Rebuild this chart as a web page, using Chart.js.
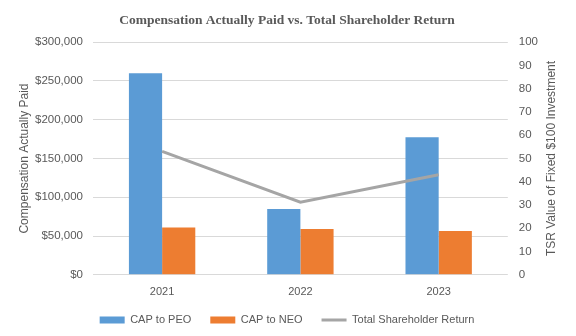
<!DOCTYPE html>
<html>
<head>
<meta charset="utf-8">
<script src="https://cdn.jsdelivr.net/npm/chart.js@4"></script>
<style>
  html, body { margin: 0; padding: 0; background: #fff; }
  #wrap { width: 576px; height: 336px; }
</style>
</head>
<body>
<div id="wrap"><canvas id="myChart" width="576" height="336"></canvas></div>
<script>
// values
const years = ['2021', '2022', '2023'];
const capPEO = [260000, 85000, 177500];
const capNEO = [61000, 59000, 56500];
const tsr = [53.1, 31.2, 43];

const textColor = '#595959';
const tickFont = { family: 'Liberation Sans', size: 11.5 };
const labelFont = { family: 'Liberation Sans', size: 11 };
const leftTitle = 'Compensation Actually Paid';
const rightTitle = 'TSR Value of Fixed $100 Investment';

// legend sits lower than chart.js puts it, and takes less room
const legendSpot = {
    id: 'legendSpot',
    afterInit(chart) {
        const lg = chart.legend;
        const fit = lg.fit;
        lg.fit = function() {
            fit.call(this);
            this.height = 26;
        };
    },
    afterLayout(chart) {
        const lg = chart.legend;
        lg.top = 320 - 19 - 5.5;
        lg.bottom = 336;
    }
};

// both axis titles read bottom to top, drawn where excel had them
const axisTitles = {
    id: 'axisTitles',
    afterDraw(chart) {
        const ctx = chart.ctx;
        const area = chart.chartArea;
        const midY = (area.top + area.bottom) / 2;
        [[25, leftTitle], [552, rightTitle]].forEach(([x, txt]) => {
            ctx.save();
            ctx.translate(x, midY);
            ctx.rotate(-Math.PI / 2);
            ctx.font = '12px "Liberation Sans"';
            ctx.fillStyle = textColor;
            ctx.textAlign = 'center';
            ctx.textBaseline = 'middle';
            ctx.fillText(txt, 0, 0);
            ctx.restore();
        });
    }
};

var ctx = document.getElementById('myChart').getContext('2d');
var chart = new Chart(ctx, {
    type: 'bar',
    data: {
        labels: years,
        datasets: [{
            type: 'line',
            label: 'Total Shareholder Return',
            data: tsr,
            yAxisID: 'y1',
            borderColor: '#A5A5A5',
            backgroundColor: '#A5A5A5',
            borderWidth: 3,
            pointRadius: 0,
            tension: 0,
            order: 0
        }, {
            label: 'CAP to PEO',
            data: capPEO,
            backgroundColor: '#5B9BD5',
            order: 1
        }, {
            label: 'CAP to NEO',
            data: capNEO,
            backgroundColor: '#ED7D31',
            order: 1
        }]
    },
    plugins: [legendSpot, axisTitles],
    options: {
        responsive: false,
        animation: false,
        layout: { padding: { left: 25, right: 27, top: 0, bottom: 0 } },
        datasets: {
            bar: { categoryPercentage: 0.48, barPercentage: 1 }
        },
        plugins: {
            title: {
                display: true,
                text: 'Compensation Actually Paid vs. Total Shareholder Return',
                color: '#595959',
                font: { family: 'Liberation Serif', size: 13.5, weight: 'bold' },
                padding: { top: 12, bottom: 14 }
            },
            legend: {
                position: 'bottom',
                labels: {
                    usePointStyle: true,
                    pointStyleWidth: 25,
                    boxHeight: 7,
                    padding: 19,
                    color: textColor,
                    font: labelFont,
                    generateLabels: function(chart) {
                        const items = Chart.defaults.plugins.legend.labels.generateLabels(chart);
                        items.forEach(it => {
                            if (it.datasetIndex === 0) {
                                it.pointStyle = 'line';
                                it.lineWidth = 3;
                                it.strokeStyle = '#A5A5A5';
                            } else {
                                it.pointStyle = 'rect';
                                it.lineWidth = 0;
                            }
                        });
                        // bars first, line last
                        return [items[1], items[2], items[0]];
                    }
                }
            },
            tooltip: { enabled: false }
        },
        scales: {
            x: {
                grid: { display: false, drawTicks: false },
                border: { display: false },
                ticks: { color: textColor, font: labelFont, padding: 11 }
            },
            y: {
                position: 'left',
                min: 0,
                max: 300000,
                ticks: {
                    stepSize: 50000,
                    color: textColor,
                    font: tickFont,
                    padding: 10,
                    callback: v => '$' + v.toLocaleString('en-US')
                },
                grid: { color: '#D9D9D9', drawTicks: false },
                border: { display: false }
            },
            y1: {
                position: 'right',
                min: 0,
                max: 100,
                ticks: { stepSize: 10, color: textColor, font: tickFont, padding: 11 },
                grid: { drawOnChartArea: false, drawTicks: false },
                border: { display: false }
            }
        }
    }
});
</script>
</body>
</html>
